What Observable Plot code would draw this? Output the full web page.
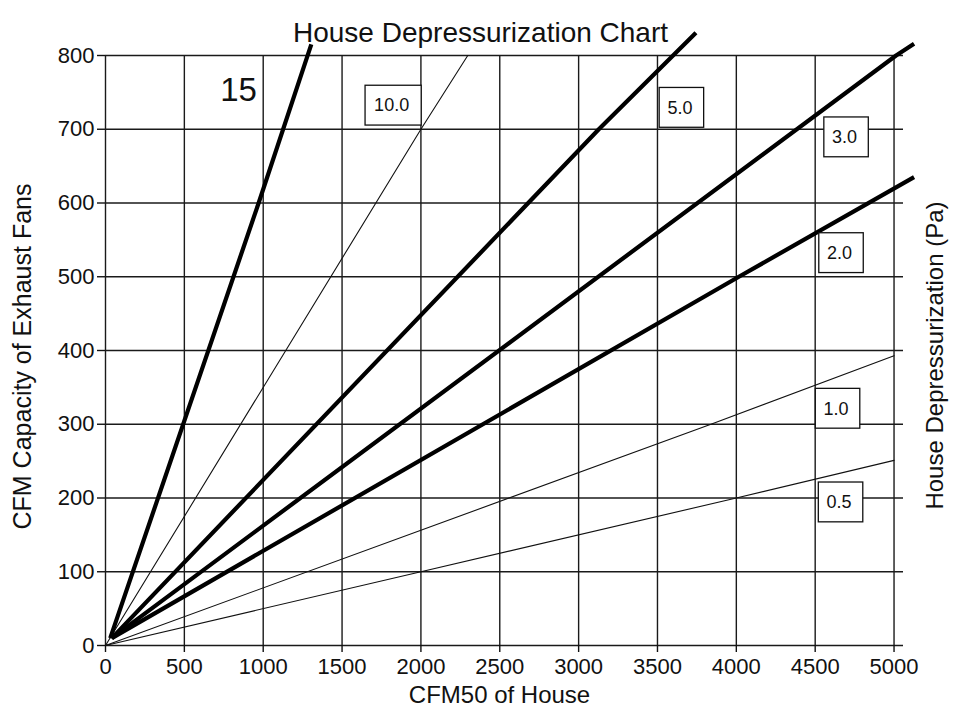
<!DOCTYPE html>
<html><head><meta charset="utf-8">
<script src="https://cdn.jsdelivr.net/npm/d3@7"></script>
<script src="https://cdn.jsdelivr.net/npm/@observablehq/plot@0.6"></script>
<style>body{margin:0;background:#fff} svg{display:block}</style>
</head><body><div id="chart"></div>
<script>
// ---- data ----
const chartTitle = "House Depressurization Chart";
const xTitle = "CFM50 of House";
const yTitle = "CFM Capacity of Exhaust Fans";
const rightTitle = "House Depressurization (Pa)";

const xTicks = [0, 500, 1000, 1500, 2000, 2500, 3000, 3500, 4000, 4500, 5000];
const yTicks = [0, 100, 200, 300, 400, 500, 600, 700, 800];

// pressure lines (Pa), each as CFM50 (x) and fan CFM (y) points
const seriesNames  = ["15", "10.0", "5.0", "3.0", "2.0", "1.0", "0.5"];
const seriesHeavy  = [true, false, true, true, true, false, false];
const seriesX = [
  [30, 971, 1305],
  [0, 2000, 2297],
  [40, 3128, 3744],
  [40, 5013, 5127],
  [40, 4016, 5127],
  [0, 3839, 5000],
  [0, 2000, 4000, 5000]
];
const seriesY = [
  [10, 600, 815],
  [0, 700, 800],
  [10, 700, 831],
  [10, 800, 816],
  [10, 500, 635],
  [0, 300, 393],
  [0, 100, 200, 251]
];

// boxed line labels (centre positions in data units)
const boxLabels = ["10.0", "5.0", "3.0", "2.0", "1.0", "0.5"];
const boxX = [1827, 3655, 4699, 4667, 4645, 4664];
const boxY = [732, 729, 689, 532, 321, 194];

// unboxed label for the 15 Pa line
const plainLabels = ["15"];
const plainX = [844];
const plainY = [753];

// ---- build tables ----
const lineRows = [];
seriesNames.forEach((name, i) => {
  seriesX[i].forEach((x, j) => lineRows.push({series: name, heavy: seriesHeavy[i], x, y: seriesY[i][j]}));
});
const boxRows = boxLabels.map((label, i) => ({label, x: boxX[i], y: boxY[i]}));
const plainRows = plainLabels.map((label, i) => ({label, x: plainX[i], y: plainY[i]}));

const halfW = d => d.label.length > 3 ? 178 : 141;
const halfH = 27;

const plot = Plot.plot({
  width: 953,
  height: 715,
  marginLeft: 105,
  marginRight: 50,
  marginTop: 55,
  marginBottom: 70,
  style: {fontFamily: "'Liberation Sans', Arial, sans-serif", fontSize: "22px", color: "#111", background: "#fff"},
  x: {domain: [0, 5060], label: null},
  y: {domain: [0, 800], label: null},
  marks: [
    Plot.gridX(xTicks, {stroke: "#1a1a1a", strokeOpacity: 1, strokeWidth: 1.4}),
    Plot.gridY(yTicks, {stroke: "#1a1a1a", strokeOpacity: 1, strokeWidth: 1.4}),
    Plot.axisX({ticks: xTicks, tickFormat: d => String(d), tickSize: 7, tickPadding: 6, label: null, stroke: "#111", strokeWidth: 1.4}),
    Plot.axisY({ticks: yTicks, tickFormat: d => String(d), tickSize: 8, tickPadding: 3, label: null, stroke: "#111", strokeWidth: 1.4}),
    Plot.line(lineRows.filter(d => !d.heavy), {x: "x", y: "y", z: "series", stroke: "#111", strokeWidth: 1.1, clip: false}),
    Plot.line(lineRows.filter(d => d.heavy), {x: "x", y: "y", z: "series", stroke: "#000", strokeWidth: 4.2, strokeLinecap: "butt", clip: false}),
    Plot.rect(boxRows, {x1: d => d.x - halfW(d), x2: d => d.x + halfW(d), y1: d => d.y - halfH, y2: d => d.y + halfH, fill: "#fff", stroke: "#111", strokeWidth: 1.3}),
    Plot.text(boxRows, {x: "x", y: "y", text: "label", fontSize: 18, fill: "#111", dx: -2}),
    Plot.text(plainRows, {x: "x", y: "y", text: "label", fontSize: 33, fill: "#111"}),
    Plot.text([chartTitle], {frameAnchor: "top", textAnchor: "middle", dx: -24, dy: -33, fontSize: 28, fill: "#111"}),
    Plot.text([xTitle], {frameAnchor: "bottom", textAnchor: "middle", dx: -5, dy: 57, fontSize: 24, fill: "#111"}),
    Plot.text([yTitle], {frameAnchor: "left", textAnchor: "middle", rotate: -90, dx: -83, dy: 6, fontSize: 25, fill: "#111"}),
    Plot.text([rightTitle], {frameAnchor: "right", textAnchor: "middle", rotate: -90, dx: 32, dy: 5, fontSize: 24, fill: "#111"})
  ]
});
document.getElementById("chart").append(plot);
</script>
</body></html>
